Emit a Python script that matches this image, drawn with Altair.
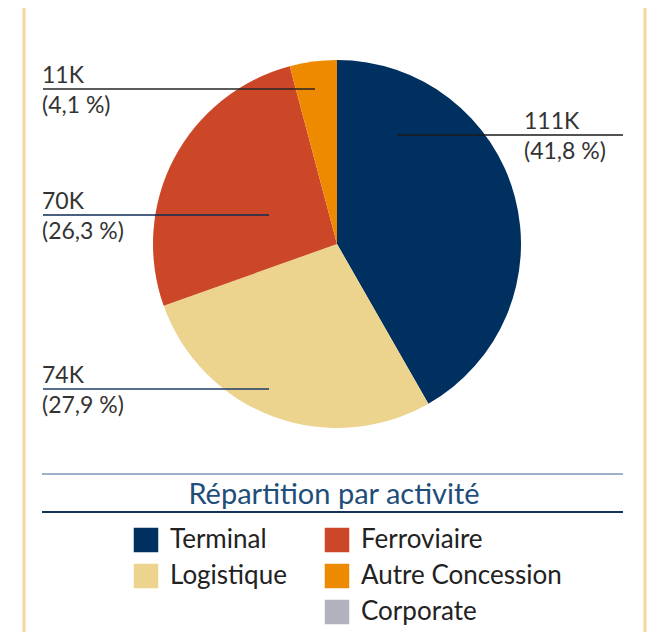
import altair as alt
import pandas as pd

# --- data -------------------------------------------------------------
activites = ["Terminal", "Logistique", "Ferroviaire", "Autre Concession", "Corporate"]
valeurs = [111, 74, 70, 11, 0]           # en milliers
pourcentages = ["41,8 %", "27,9 %", "26,3 %", "4,1 %", "0,0 %"]
couleurs = ["#00305f", "#ecd48f", "#cc4628", "#ee8a00", "#b0b3bd"]
legende_col1 = ["Terminal", "Logistique"]
legende_col2 = ["Ferroviaire", "Autre Concession", "Corporate"]
titre_legende = "Répartition par activité"

df = pd.DataFrame({
    "activite": activites,
    "valeur": valeurs,
    "ordre": list(range(len(activites))),
})
one = pd.DataFrame({"k": [0]})  # single row for annotation marks

FONT = "Lato"
WEIGHT = 400
W, H = 640, 624
CX, CY, R = 329, 236, 184

color_scale = alt.Scale(domain=activites, range=couleurs)

base = alt.Chart(df)

pie = base.mark_arc(radius=R).encode(
    theta=alt.Theta("valeur:Q", stack=True),
    order=alt.Order("ordre:Q"),
    color=alt.Color(
        "activite:N", scale=color_scale,
        legend=alt.Legend(values=legende_col1, orient="none", legendX=125, legendY=519,
                          direction="vertical", title=None),
    ),
    x=alt.value(CX), y=alt.value(CY),
)

pie_legend2 = base.mark_arc(radius=0).encode(
    theta=alt.Theta("valeur:Q", stack=True),
    order=alt.Order("ordre:Q"),
    color=alt.Color(
        "activite:N", scale=color_scale,
        legend=alt.Legend(values=legende_col2, orient="none", legendX=316, legendY=519,
                          direction="vertical", title=None),
    ),
    x=alt.value(CX), y=alt.value(CY),
)

# --- annotations (labels + leader lines) ------------------------------
def label(val_text, pct_text, x_text, y_line, x1, x2, line_color):
    line = alt.Chart(one).mark_rule(color=line_color, strokeWidth=1.4).encode(
        x=alt.value(x1), x2=alt.value(x2), y=alt.value(y_line))
    t1 = alt.Chart(one).mark_text(text=val_text, font=FONT, fontSize=23, fontWeight=WEIGHT,
                                  color="#333333", align="left", baseline="alphabetic").encode(
        x=alt.value(x_text), y=alt.value(y_line - 6))
    t2 = alt.Chart(one).mark_text(text=pct_text, font=FONT, fontSize=23, fontWeight=WEIGHT,
                                  color="#333333", align="left", baseline="alphabetic").encode(
        x=alt.value(x_text), y=alt.value(y_line + 24))
    return [line, t1, t2]

annots = []
annots += label(f"{valeurs[0]}K", f"({pourcentages[0]})", 516, 127, 389, 615, "#1a1a1a")
annots += label(f"{valeurs[3]}K", f"({pourcentages[3]})", 34, 81, 35, 307, "#262626")
annots += label(f"{valeurs[2]}K", f"({pourcentages[2]})", 34, 207, 35, 261, "#0f2b55")
annots += label(f"{valeurs[1]}K", f"({pourcentages[1]})", 34, 381, 35, 261, "#1f3d66")

# --- legend decoration -------------------------------------------------
rule_top = alt.Chart(one).mark_rule(color="#7f97b6", strokeWidth=1.6).encode(
    x=alt.value(34), x2=alt.value(615), y=alt.value(466))
rule_bot = alt.Chart(one).mark_rule(color="#14325e", strokeWidth=1.8).encode(
    x=alt.value(34), x2=alt.value(615), y=alt.value(504))
title_txt = alt.Chart(one).mark_text(text=titre_legende, font=FONT, fontSize=29,
                                     fontWeight=WEIGHT, color="#1f4e79", align="center",
                                     baseline="alphabetic").encode(
    x=alt.value(326), y=alt.value(496))

# --- frame -------------------------------------------------------------
frame_l = alt.Chart(one).mark_rule(color="#f3d99c", strokeWidth=3).encode(
    x=alt.value(16), y=alt.value(0), y2=alt.value(H))
frame_r = alt.Chart(one).mark_rule(color="#f3d99c", strokeWidth=3).encode(
    x=alt.value(637), y=alt.value(0), y2=alt.value(H))

chart = alt.layer(
    frame_l, frame_r, pie, pie_legend2, *annots, rule_top, rule_bot, title_txt
).resolve_scale(color="independent").properties(
    width=W, height=H, padding=0, autosize=alt.AutoSizeParams(type="none"),
    background="white",
).configure_view(stroke=None).configure_legend(
    labelFont=FONT, labelFontSize=26, labelFontWeight=WEIGHT, labelColor="#222222",
    labelLimit=400,
    symbolType="square", symbolSize=600, symbolStrokeWidth=0,
    labelOffset=11, rowPadding=10, padding=0, symbolOpacity=1,
)

chart.save("out.html", embed_options={"renderer": "svg", "actions": False})
